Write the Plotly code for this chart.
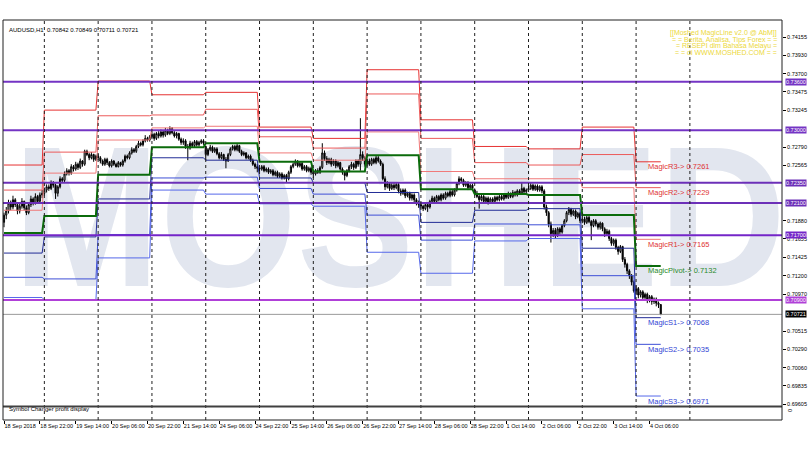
import plotly.graph_objects as go

# ---------------- data (prices in pips, i.e. price * 10000) ----------------
tick_labels_x = ["18 Sep 2018", "18 Sep 22:00", "19 Sep 14:00", "20 Sep 06:00", "20 Sep 22:00",
                 "21 Sep 14:00", "24 Sep 06:00", "24 Sep 22:00", "25 Sep 14:00", "26 Sep 06:00",
                 "26 Sep 22:00", "27 Sep 14:00", "28 Sep 06:00", "28 Sep 22:00", "1 Oct 14:00",
                 "2 Oct 06:00", "2 Oct 22:00", "3 Oct 14:00", "4 Oct 06:00"]
tick_bars_x = [0, 16, 32, 48, 64, 80, 96, 112, 128, 144, 160, 176, 192, 208, 224, 240, 256, 272, 288]

days = ["18 Sep", "19 Sep", "20 Sep", "21 Sep", "24 Sep", "25 Sep", "26 Sep",
        "27 Sep", "28 Sep", "1 Oct", "2 Oct", "3 Oct", "4 Oct", "5 Oct"]
day_start_bar = [0, 18, 42, 66, 90, 114, 138, 162, 186, 210, 234, 258, 282, 306]

close_p = [
    7195, 7200, 7210, 7205, 7214, 7208, 7200, 7206, 7212, 7204, 7198, 7208, 7215, 7210, 7218, 7212, 7220, 7222,
    7226, 7230, 7228, 7235, 7232, 7222, 7230, 7240, 7238, 7246, 7250, 7247, 7255, 7252, 7258, 7254, 7262, 7258, 7274, 7270, 7266, 7270, 7264, 7268,
    7266, 7262, 7258, 7264, 7260, 7256, 7262, 7258, 7255, 7260, 7257, 7262, 7268, 7266, 7272, 7276, 7274, 7280, 7284, 7282, 7287, 7290, 7288, 7292,
    7295, 7290, 7296, 7293, 7298, 7294, 7300, 7296, 7302, 7297, 7293, 7296, 7289, 7285, 7287, 7280, 7278, 7284, 7281, 7286, 7282, 7285, 7287, 7284,
    7270, 7276, 7279, 7274, 7277, 7271, 7266, 7270, 7264, 7262, 7270, 7277, 7280, 7276, 7281, 7274, 7270, 7272, 7266, 7268, 7263, 7258, 7255, 7253,
    7252, 7255, 7250, 7252, 7248, 7250, 7245, 7248, 7243, 7246, 7241, 7244, 7240, 7248, 7255, 7258, 7262, 7256, 7259, 7252, 7255, 7250, 7253, 7248,
    7246, 7250, 7248, 7254, 7272, 7265, 7260, 7264, 7258, 7262, 7256, 7260, 7252, 7248, 7244, 7250, 7255, 7258, 7254, 7262, 7258, 7270, 7266, 7258,
    7262, 7258, 7264, 7260, 7266, 7262, 7258, 7240, 7230, 7234, 7228, 7232, 7229, 7233, 7225, 7222, 7226, 7219, 7222, 7216, 7220, 7214, 7210, 7208,
    7206, 7203, 7208, 7205, 7212, 7216, 7212, 7218, 7214, 7220, 7216, 7222, 7219, 7224, 7220, 7226, 7234, 7240, 7238, 7232, 7235, 7229, 7232, 7228,
    7222, 7218, 7214, 7218, 7212, 7216, 7211, 7215, 7212, 7217, 7214, 7218, 7215, 7220, 7217, 7221, 7218, 7223, 7220, 7225, 7222, 7228, 7224, 7226,
    7228, 7232, 7227, 7231, 7226, 7230, 7225, 7205, 7198, 7184, 7172, 7176, 7170, 7178, 7174, 7182, 7188, 7198, 7202, 7196, 7200, 7193, 7197, 7188,
    7190, 7186, 7192, 7187, 7182, 7188, 7184, 7180, 7185, 7178, 7172, 7175, 7166, 7160, 7164, 7155, 7150, 7156, 7140, 7134, 7126, 7120, 7112, 7101,
    7104, 7096, 7100, 7093, 7097, 7090, 7094, 7088, 7091, 7086, 7084.2, 7072.1]
open_p = [
    7186, 7195, 7200, 7210, 7205, 7214, 7208, 7200, 7206, 7212, 7204, 7198, 7208, 7215, 7210, 7218, 7212, 7220,
    7222, 7226, 7230, 7228, 7235, 7232, 7222, 7230, 7240, 7238, 7246, 7250, 7247, 7255, 7252, 7258, 7254, 7262, 7258, 7274, 7270, 7266, 7270, 7264,
    7268, 7266, 7262, 7258, 7264, 7260, 7256, 7262, 7258, 7255, 7260, 7257, 7262, 7268, 7266, 7272, 7276, 7274, 7280, 7284, 7282, 7287, 7290, 7288,
    7292, 7295, 7290, 7296, 7293, 7298, 7294, 7300, 7296, 7302, 7297, 7293, 7296, 7289, 7285, 7287, 7280, 7278, 7284, 7281, 7286, 7282, 7285, 7287,
    7280, 7270, 7276, 7279, 7274, 7277, 7271, 7266, 7270, 7264, 7262, 7270, 7277, 7280, 7276, 7281, 7274, 7270, 7272, 7266, 7268, 7263, 7258, 7255,
    7253, 7252, 7255, 7250, 7252, 7248, 7250, 7245, 7248, 7243, 7246, 7241, 7244, 7240, 7248, 7255, 7258, 7262, 7256, 7259, 7252, 7255, 7250, 7253,
    7248, 7246, 7250, 7248, 7254, 7272, 7265, 7260, 7264, 7258, 7262, 7256, 7260, 7252, 7248, 7244, 7250, 7255, 7258, 7254, 7262, 7258, 7270, 7266,
    7258, 7262, 7258, 7264, 7260, 7266, 7262, 7258, 7240, 7230, 7234, 7228, 7232, 7229, 7233, 7225, 7222, 7226, 7219, 7222, 7216, 7220, 7214, 7210,
    7208, 7206, 7203, 7208, 7205, 7212, 7216, 7212, 7218, 7214, 7220, 7216, 7222, 7219, 7224, 7220, 7226, 7234, 7240, 7238, 7232, 7235, 7229, 7232,
    7226, 7222, 7218, 7214, 7218, 7212, 7216, 7211, 7215, 7212, 7217, 7214, 7218, 7215, 7220, 7217, 7221, 7218, 7223, 7220, 7225, 7222, 7228, 7224,
    7226, 7228, 7232, 7227, 7231, 7226, 7230, 7225, 7205, 7198, 7184, 7172, 7176, 7170, 7178, 7174, 7182, 7188, 7198, 7202, 7196, 7200, 7193, 7197,
    7188, 7190, 7186, 7192, 7187, 7182, 7188, 7184, 7180, 7185, 7178, 7172, 7175, 7166, 7160, 7164, 7155, 7150, 7156, 7140, 7134, 7126, 7120, 7112,
    7101, 7104, 7096, 7100, 7093, 7097, 7090, 7094, 7088, 7091, 7086, 7084.2]
high_p = [
    7198, 7205, 7214, 7213, 7219, 7216, 7210, 7209, 7216, 7213, 7207, 7211, 7219, 7217, 7222, 7220, 7223, 7226,
    7229, 7233, 7233, 7238, 7237, 7234, 7232, 7243, 7242, 7249, 7253, 7252, 7258, 7257, 7261, 7260, 7265, 7263, 7276, 7276, 7272, 7273, 7271, 7270,
    7271, 7268, 7264, 7266, 7266, 7262, 7264, 7263, 7260, 7262, 7261, 7264, 7270, 7270, 7274, 7279, 7278, 7282, 7287, 7286, 7289, 7294, 7292, 7294,
    7298, 7297, 7298, 7299, 7301, 7300, 7303, 7302, 7305, 7304, 7299, 7298, 7297, 7291, 7290, 7289, 7283, 7287, 7286, 7288, 7288, 7287, 7289, 7289,
    7281, 7278, 7282, 7281, 7279, 7279, 7273, 7273, 7271, 7267, 7272, 7279, 7282, 7282, 7283, 7282, 7276, 7274, 7273, 7270, 7270, 7265, 7260, 7258,
    7256, 7257, 7257, 7254, 7254, 7252, 7252, 7250, 7250, 7248, 7248, 7246, 7246, 7250, 7257, 7260, 7264, 7263, 7261, 7261, 7257, 7257, 7255, 7255,
    7250, 7252, 7253, 7256, 7284, 7275, 7268, 7266, 7266, 7264, 7264, 7262, 7261, 7254, 7250, 7252, 7257, 7261, 7260, 7264, 7264, 7315, 7274, 7268,
    7264, 7265, 7266, 7266, 7269, 7268, 7264, 7260, 7243, 7237, 7236, 7235, 7235, 7236, 7235, 7228, 7228, 7228, 7224, 7224, 7222, 7222, 7216, 7213,
    7210, 7208, 7210, 7210, 7214, 7219, 7218, 7220, 7220, 7222, 7222, 7224, 7224, 7226, 7226, 7228, 7236, 7243, 7242, 7240, 7237, 7237, 7234, 7234,
    7228, 7225, 7220, 7220, 7220, 7218, 7218, 7217, 7217, 7219, 7219, 7220, 7220, 7222, 7222, 7224, 7223, 7226, 7225, 7227, 7227, 7236, 7230, 7228,
    7231, 7236, 7234, 7233, 7233, 7232, 7232, 7227, 7208, 7200, 7187, 7179, 7179, 7180, 7180, 7184, 7190, 7200, 7205, 7204, 7202, 7202, 7199, 7199,
    7196, 7193, 7194, 7194, 7189, 7190, 7190, 7186, 7187, 7186, 7180, 7178, 7177, 7168, 7166, 7166, 7157, 7158, 7157, 7143, 7136, 7128, 7122, 7114,
    7108, 7106, 7102, 7102, 7099, 7099, 7096, 7096, 7093, 7093, 7088, 7084.9]
low_p = [
    7180, 7190, 7197, 7201, 7202, 7205, 7196, 7197, 7203, 7201, 7195, 7196, 7205, 7207, 7208, 7209, 7210, 7216,
    7219, 7223, 7225, 7226, 7229, 7215, 7218, 7228, 7235, 7236, 7244, 7244, 7245, 7249, 7250, 7251, 7252, 7255, 7256, 7268, 7263, 7264, 7261, 7262,
    7263, 7259, 7256, 7256, 7257, 7254, 7254, 7256, 7254, 7254, 7255, 7255, 7260, 7264, 7264, 7270, 7272, 7272, 7278, 7280, 7280, 7285, 7286, 7286,
    7289, 7287, 7288, 7290, 7291, 7291, 7292, 7294, 7294, 7295, 7291, 7290, 7287, 7282, 7282, 7277, 7263, 7276, 7279, 7279, 7280, 7280, 7283, 7282,
    7263, 7268, 7274, 7272, 7272, 7269, 7264, 7264, 7262, 7253, 7261, 7268, 7275, 7274, 7274, 7272, 7268, 7268, 7264, 7264, 7261, 7256, 7252, 7248,
    7249, 7250, 7248, 7248, 7246, 7246, 7243, 7243, 7241, 7241, 7239, 7239, 7236, 7238, 7246, 7253, 7256, 7254, 7254, 7250, 7250, 7248, 7248, 7245,
    7241, 7244, 7246, 7246, 7252, 7262, 7257, 7258, 7255, 7256, 7253, 7254, 7250, 7245, 7238, 7242, 7248, 7252, 7251, 7252, 7255, 7250, 7262, 7255,
    7255, 7256, 7256, 7258, 7258, 7260, 7256, 7238, 7226, 7228, 7225, 7226, 7226, 7227, 7222, 7219, 7220, 7216, 7217, 7213, 7213, 7211, 7207, 7204,
    7203, 7200, 7201, 7199, 7203, 7210, 7209, 7210, 7212, 7212, 7214, 7214, 7217, 7217, 7218, 7218, 7224, 7232, 7235, 7230, 7230, 7226, 7227, 7225,
    7219, 7216, 7203, 7212, 7209, 7210, 7208, 7209, 7209, 7210, 7212, 7212, 7213, 7213, 7215, 7215, 7216, 7216, 7218, 7218, 7220, 7220, 7222, 7222,
    7224, 7226, 7225, 7225, 7224, 7224, 7222, 7202, 7194, 7180, 7161, 7168, 7166, 7168, 7171, 7172, 7180, 7186, 7195, 7193, 7194, 7190, 7191, 7185,
    7185, 7183, 7184, 7185, 7164, 7180, 7181, 7177, 7177, 7175, 7168, 7169, 7163, 7157, 7157, 7152, 7146, 7148, 7137, 7130, 7122, 7116, 7108, 7099,
    7096, 7092, 7093, 7089, 7090, 7086, 7087, 7084, 7085, 7082, 7080, 7071.1]

# daily MagicLine levels (one value per trading day, 18 Sep .. 4 Oct)
level_R3 = [7257, 7325, 7361, 7344, 7347, 7304, 7290, 7375, 7313, 7280, 7277, 7304, 7261]
level_R2 = [7226, 7273, 7318, 7319, 7326, 7292, 7278, 7345, 7290, 7260, 7257, 7270, 7229]
level_R1 = [7201, 7247, 7288, 7303, 7305, 7272, 7263, 7298, 7249, 7240, 7240, 7229, 7165]
level_P = [7173, 7194, 7245, 7279, 7284, 7261, 7249, 7269, 7227, 7221, 7220, 7195, 7132]
level_S1 = [7148, 7168, 7215, 7266, 7263, 7241, 7235, 7223, 7186, 7201, 7203, 7154, 7068]
level_S2 = [7118, 7116, 7171, 7241, 7242, 7228, 7221, 7195, 7164, 7184, 7183, 7120, 7035]
level_S3 = [7093, 7090, 7142, 7226, 7221, 7209, 7206, 7149, 7123, 7163, 7166, 7079, 6971]

hline_levels = [0.73600, 0.73000, 0.72350, 0.72100, 0.71700, 0.70900]
hline_colors = ["#7434c4", "#7434c4", "#6c30b8", "#6c30b8", "#7426c8", "#b040d8"]
last_price = 0.70721

y_tick_vals = [0.74155, 0.73930, 0.73700, 0.73475, 0.73245, 0.72790, 0.72565, 0.71880, 0.71655,
               0.71425, 0.71200, 0.70970, 0.70515, 0.70290, 0.70060, 0.69835, 0.69605]

magic_names = ["MagicR3", "MagicR2", "MagicR1", "MagicPivot", "MagicS1", "MagicS2", "MagicS3"]

info_lines = ["[[Moshed MagicLine v2.0 @ AbM]]", "= = Berita, Analisa, Tips Forex = =",
              "= RESEPI dlm Bahasa Melayu =", "= = di WWW.MOSHED.COM = ="]

# ---------------- figure ----------------
P = lambda v: v / 10000.0
n_bars = len(close_p)
bars = list(range(n_bars))
FONT = "Liberation Sans"

fig = go.Figure()

# watermark on the base subplot (drawn beneath everything else)
fig.add_trace(go.Scatter(x=[0.509], y=[0.44], mode="text", text=["<b>MOSHED</b>"],
                         textfont=dict(family="Liberation Sans", size=200, color="#e2e6ef"),
                         xaxis="x", yaxis="y", hoverinfo="skip", showlegend=False))

level_sets = [
    (level_R3, "#e63232", 1), (level_R2, "#ec5a5a", 1), (level_R1, "#f07a7a", 1),
    (level_S1, "#222c96", 1), (level_S2, "#3e4fd6", 1), (level_S3, "#5568ea", 1),
    (level_P, "#0b6b0b", 2),
]
ends = [s - 1 for s in day_start_bar[1:13]] + [n_bars - 1]
for vals, col, w in level_sets:
    xs, ys = [], []
    for d in range(13):
        xs += [day_start_bar[d], ends[d]]
        ys += [P(vals[d]), P(vals[d])]
    fig.add_trace(go.Scatter(x=xs, y=ys, mode="lines", line=dict(color=col, width=w),
                             xaxis="x2", yaxis="y2", hoverinfo="skip", showlegend=False))

fig.add_trace(go.Candlestick(
    x=bars, open=[P(v) for v in open_p], high=[P(v) for v in high_p],
    low=[P(v) for v in low_p], close=[P(v) for v in close_p],
    increasing=dict(line=dict(color="black", width=1), fillcolor="white"),
    decreasing=dict(line=dict(color="black", width=1), fillcolor="black"),
    whiskerwidth=0, xaxis="x2", yaxis="y2", showlegend=False))

# empty sub-window
fig.add_trace(go.Scatter(x=[0], y=[0.5], mode="markers", marker=dict(opacity=0),
                         xaxis="x3", yaxis="y3", hoverinfo="skip", showlegend=False))

x_range = [-0.45, 347.1]
y_range = [0.695802, 0.743658]
main_dom = [0.03375, 1.0]

shapes = []
for lv, col in zip(hline_levels, hline_colors):
    shapes.append(dict(type="line", xref="paper", x0=0, x1=1, yref="y2", y0=lv, y1=lv,
                       line=dict(color=col, width=2)))
shapes.append(dict(type="line", xref="paper", x0=0, x1=1, yref="y2", y0=last_price, y1=last_price,
                   line=dict(color="#9a9a9a", width=1)))
for b in day_start_bar[1:]:
    shapes.append(dict(type="line", xref="x2", x0=b, x1=b, yref="paper", y0=0, y1=1,
                       line=dict(color="#202020", width=1, dash="dot")))
shapes.append(dict(type="line", xref="paper", x0=0, x1=1, yref="paper", y0=0.0335, y1=0.0335,
                   line=dict(color="#404040", width=2)))
shapes.append(dict(type="rect", xref="paper", x0=0, x1=1, yref="paper", y0=0, y1=1,
                   line=dict(color="#202020", width=1)))

annotations = []
for lv, col in zip(hline_levels, hline_colors):
    annotations.append(dict(xref="paper", x=1, xanchor="left", xshift=3, yref="y2", y=lv,
                            text="%.5f" % lv, showarrow=False, bgcolor=col, borderpad=0,
                            font=dict(family=FONT, size=5.5, color="white")))
annotations.append(dict(xref="paper", x=1, xanchor="left", xshift=3, yref="y2", y=last_price,
                        text="%.5f" % last_price, showarrow=False, bgcolor="black", borderpad=0,
                        font=dict(family=FONT, size=5.5, color="white")))

magic_vals = [level_R3[-1], level_R2[-1], level_R1[-1], level_P[-1], level_S1[-1], level_S2[-1], level_S3[-1]]
magic_cols = ["#e03434", "#e03434", "#e03434", "#2a8a2a", "#3444d4", "#3444d4", "#3444d4"]
for name, v, c in zip(magic_names, magic_vals, magic_cols):
    annotations.append(dict(xref="x2", x=286.5, xanchor="left", yref="y2", y=P(v), yshift=-5,
                            text="%s-> %.4f" % (name, P(v)), showarrow=False,
                            font=dict(family=FONT, size=7.5, color=c)))

annotations.append(dict(xref="paper", x=0.005, xanchor="left", yref="paper", y=0.9875,
                        text="AUDUSD,H1  0.70842 0.70849 0.70711 0.70721", showarrow=False,
                        font=dict(family=FONT, size=6, color="black")))
for i, line in enumerate(info_lines):
    annotations.append(dict(xref="paper", x=0.9965, xanchor="right", yref="paper",
                            y=0.9675 - i * 0.0165, yanchor="middle", text=line, showarrow=False,
                            font=dict(family=FONT, size=7, color="#ecd83a")))
annotations.append(dict(xref="paper", x=0.005, xanchor="left", yref="paper", y=0.016,
                        text="Symbol Changer profit display", showarrow=False,
                        font=dict(family=FONT, size=6, color="black")))
annotations.append(dict(xref="paper", x=1, xanchor="left", xshift=3, yref="paper", y=0.016,
                        text="0", showarrow=False, textangle=90,
                        font=dict(family=FONT, size=5.5, color="black")))

fig.update_layout(
    width=810, height=450,
    margin=dict(l=3, r=25, t=20, b=30),
    paper_bgcolor="white", plot_bgcolor="white",
    showlegend=False,
    xaxis=dict(domain=[0, 1], range=[0, 1], visible=False, fixedrange=True),
    yaxis=dict(domain=main_dom, range=[0, 1], visible=False, fixedrange=True),
    xaxis2=dict(overlaying="x", range=x_range, visible=False, rangeslider=dict(visible=False)),
    yaxis2=dict(overlaying="y", side="right", range=y_range, tickvals=y_tick_vals,
                ticktext=["%.5f" % v for v in y_tick_vals], ticks="outside", ticklen=3,
                tickcolor="black", showgrid=False, zeroline=False, showline=False,
                tickfont=dict(family=FONT, size=5.5, color="black")),
    xaxis3=dict(domain=[0, 1], anchor="y3", range=x_range, tickvals=tick_bars_x,
                ticktext=tick_labels_x, ticks="outside", ticklen=3, tickcolor="black",
                tickangle=0, ticklabelposition="outside right", showgrid=False, zeroline=False,
                tickfont=dict(family=FONT, size=5.5, color="black")),
    yaxis3=dict(domain=[0, 0.03], anchor="x3", range=[0, 1], visible=False),
    shapes=shapes,
    annotations=annotations,
)

post_js = """
document.body.style.margin='0px';
var gd = document.getElementById('{plot_id}');
var t = gd.querySelector('.scatterlayer .textpoint text');
if (t) {
  var bb = t.getBBox();
  var cx = bb.x + bb.width / 2, cy = bb.y + bb.height / 2;
  var prev = t.getAttribute('transform') || '';
  t.setAttribute('transform', 'translate(' + cx + ',' + cy + ') scale(0.88,1) translate(' + (-cx) + ',' + (-cy) + ') ' + prev);
}
"""
fig.write_html("out.html", post_script=post_js, config={"displayModeBar": False})
